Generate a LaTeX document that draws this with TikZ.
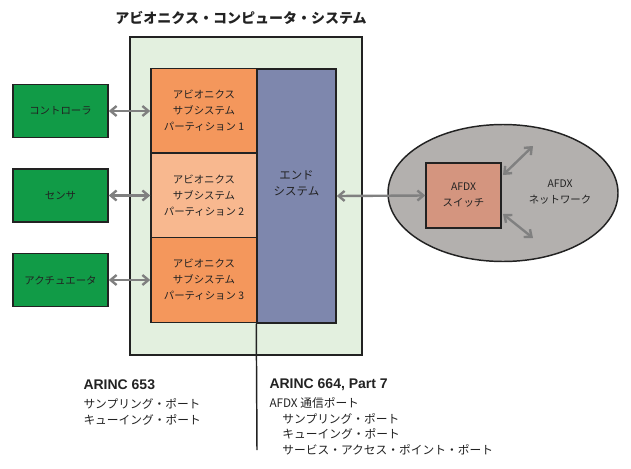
\documentclass[tikz,border=0pt]{standalone}
\usepackage{fontspec}
\usetikzlibrary{arrows.meta,shapes.geometric}
\setmainfont{Liberation Sans}
\newfontfamily\jp{Noto Sans CJK JP}
\definecolor{devgreen}{HTML}{119B47}
\definecolor{parta}{HTML}{F4975C}
\definecolor{partb}{HTML}{F8B88F}
\definecolor{endsys}{HTML}{7E87AD}
\definecolor{acsbg}{HTML}{E3F0DF}
\definecolor{netgray}{HTML}{B3B0AE}
\definecolor{swfill}{HTML}{D4957F}
\definecolor{linkgray}{HTML}{808080}
\definecolor{ink}{HTML}{222222}
\tikzset{every picture/.style={line width=0.75pt}}

\begin{document}
\begin{tikzpicture}[x=0.75pt,y=0.75pt,yscale=-1,xscale=1,
  box/.style={draw=ink,line width=1.1pt,inner sep=0pt,align=center,text=ink,
    font=\jp\fontsize{7.8}{12}\selectfont},
  device/.style={box,fill=devgreen,minimum width=71.25pt,minimum height=39.5pt},
  partition/.style={box,minimum width=79.5pt,minimum height=63.5pt},
  link/.style={draw=linkgray,line width=1.8pt,
    {Straight Barb[length=4.5pt,width=7.5pt]}-{Straight Barb[length=4.5pt,width=7.5pt]}},
  note/.style={inner sep=0pt,align=left,text=ink,font=\jp\fontsize{8.8}{11.6}\selectfont}]
\path[use as bounding box] (0,0) rectangle (631,468);

% title
\node[text=ink,font=\jp\bfseries\fontsize{10.5}{12}\selectfont] (title) at (241,18) {アビオニクス・コンピュータ・システム};

% avionics computer system
\node[box,fill=acsbg,minimum width=174pt,minimum height=238.5pt] (acs) at (246,196) {};
\node[partition,fill=parta] (part1) at (204,111) {アビオニクス\\サブシステム\\パーティション 1};
\node[partition,fill=partb] (part2) at (204,195.5) {アビオニクス\\サブシステム\\パーティション 2};
\node[partition,fill=parta] (part3) at (204,280) {アビオニクス\\サブシステム\\パーティション 3};
\node[box,fill=endsys,minimum width=59.25pt,minimum height=190.5pt,font=\jp\fontsize{8.6}{12}\selectfont] (es) at (296.5,196) {エンド\\システム\\[7pt]};

% devices
\node[device] (ctrl) at (60.5,111) {コントローラ};
\node[device] (sens) at (60.5,195.5) {センサ};
\node[device] (act) at (60.5,280) {アクチュエータ};

\draw[link] (ctrl) -- (part1);
\draw[link] (sens) -- (part2);
\draw[link] (act) -- (part3);

% AFDX network
\node[draw=ink,line width=1.1pt,fill=netgray,ellipse,inner sep=0pt,minimum width=172.5pt,minimum height=102.75pt] (net) at (503,193) {};
\node[box,fill=swfill,minimum width=56.25pt,minimum height=48.75pt] (sw) at (463.5,195.5) {AFDX\\スイッチ};
\node[text=ink,align=center,font=\jp\fontsize{7.8}{12}\selectfont] (netlbl) at (560,192) {AFDX\\ネットワーク};
\draw[link] (es.east) -- (sw.west);
\coordinate (upa) at (503,175);
\coordinate (upb) at (533,146);
\coordinate (dna) at (503,214);
\coordinate (dnb) at (533,238);
\draw[link] (upa) -- (upb);
\draw[link] (dna) -- (dnb);

% divider
\coordinate (divend) at (257,450);
\draw[ink,line width=1.1pt] (es.south west) -- (divend);

% ports
\node[note,anchor=base west] (a653) at (83,424)
  {{\rmfamily\bfseries\fontsize{10.5}{12}\selectfont ARINC 653}\\[2.5pt]
   サンプリング・ポート\\キューイング・ポート};
\node[note,anchor=base west] (a664) at (269,454)
  {{\rmfamily\bfseries\fontsize{10.5}{12}\selectfont ARINC 664, Part 7}\\[2.5pt]
   AFDX 通信ポート\\
   \hspace*{1.1em}サンプリング・ポート\\
   \hspace*{1.1em}キューイング・ポート\\
   \hspace*{1.1em}サービス・アクセス・ポイント・ポート};
\end{tikzpicture}
\end{document}
